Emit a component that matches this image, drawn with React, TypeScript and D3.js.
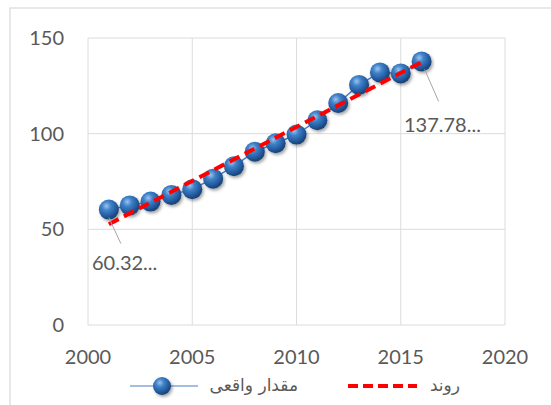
import React, { useEffect, useRef } from "react";
import * as d3 from "d3";

const years = [2001, 2002, 2003, 2004, 2005, 2006, 2007, 2008, 2009, 2010, 2011, 2012, 2013, 2014, 2015, 2016];
const values = [60.32, 62.5, 64.5, 68, 71, 76.5, 83, 90.6, 95, 99.5, 107, 116, 125.5, 132, 131.5, 137.78];
const xTicks = [2000, 2005, 2010, 2015, 2020];
const yTicks = [0, 50, 100, 150];
const seriesName = "مقدار واقعی";
const trendName = "روند";
const firstLabel = "60.32...";
const lastLabel = "137.78...";

export default function App() {
  const svgRef = useRef<SVGSVGElement>(null);

  useEffect(() => {
    if (!svgRef.current) return;
    const svg = d3.select(svgRef.current);
    svg.selectAll("*").remove();

    const W = 551, H = 405;
    const font = "Lato, 'Open Sans', sans-serif";
    const textColor = "#595959";

    const x = d3.scaleLinear().domain([2000, 2020]).range([88, 505]);
    const y = d3.scaleLinear().domain([0, 150]).range([325, 38]);

    svg.append("rect").attr("width", W).attr("height", H).attr("fill", "#fff");
    // chart frame
    svg.append("rect").attr("x", 10).attr("y", 8).attr("width", W + 20).attr("height", H + 20)
      .attr("fill", "none").attr("stroke", "#d9d9d9").attr("stroke-width", 1.2);

    const defs = svg.append("defs");
    const grad = defs.append("radialGradient").attr("id", "ball").attr("cx", "38%").attr("cy", "32%").attr("r", "65%");
    grad.append("stop").attr("offset", "0%").attr("stop-color", "#9cc3ec");
    grad.append("stop").attr("offset", "35%").attr("stop-color", "#3f82c9");
    grad.append("stop").attr("offset", "80%").attr("stop-color", "#22589c");
    grad.append("stop").attr("offset", "100%").attr("stop-color", "#1a4478");
    const shadow = defs.append("filter").attr("id", "shadow").attr("x", "-50%").attr("y", "-50%").attr("width", "200%").attr("height", "200%");
    shadow.append("feDropShadow").attr("dx", 1.5).attr("dy", 2).attr("stdDeviation", 1.5).attr("flood-color", "#000").attr("flood-opacity", 0.35);

    // grid
    svg.append("g").selectAll("line").data(xTicks).join("line")
      .attr("x1", d => x(d)).attr("x2", d => x(d)).attr("y1", y(150)).attr("y2", y(0))
      .attr("stroke", "#dcdcdc").attr("stroke-width", 1);
    svg.append("g").selectAll("line").data(yTicks).join("line")
      .attr("x1", x(2000)).attr("x2", x(2020)).attr("y1", d => y(d)).attr("y2", d => y(d))
      .attr("stroke", "#dcdcdc").attr("stroke-width", 1);

    // tick labels
    svg.append("g").selectAll("text").data(yTicks).join("text")
      .attr("x", 64).attr("y", d => y(d)).attr("dy", "0.35em").attr("text-anchor", "end")
      .attr("font-family", font).attr("font-size", 20).attr("fill", textColor).text(d => d);
    svg.append("g").selectAll("text").data(xTicks).join("text")
      .attr("x", d => x(d)).attr("y", 364).attr("text-anchor", "middle")
      .attr("font-family", font).attr("font-size", 20).attr("fill", textColor).text(d => d);

    const pts = years.map((yr, i) => ({ yr, v: values[i] }));

    // series line
    const line = d3.line<{ yr: number; v: number }>().x(d => x(d.yr)).y(d => y(d.v));
    svg.append("path").datum(pts).attr("fill", "none").attr("stroke", "#4a7cc4").attr("stroke-width", 1.5).attr("d", line);

    // markers
    svg.append("g").selectAll("circle").data(pts).join("circle")
      .attr("cx", d => x(d.yr)).attr("cy", d => y(d.v)).attr("r", 10)
      .attr("fill", "url(#ball)").attr("filter", "url(#shadow)");

    // linear trend
    const mx = d3.mean(years)!;
    const my = d3.mean(values)!;
    const slope = d3.sum(pts, d => (d.yr - mx) * (d.v - my)) / d3.sum(pts, d => (d.yr - mx) ** 2);
    const trend = (t: number) => my + slope * (t - mx);
    const x0 = years[0], x1 = years[years.length - 1];
    svg.append("line").attr("x1", x(x0)).attr("y1", y(trend(x0))).attr("x2", x(x1)).attr("y2", y(trend(x1)))
      .attr("stroke", "#ff0000").attr("stroke-width", 4).attr("stroke-dasharray", "11,6");

    // data labels with leader lines
    const first = pts[0], last = pts[pts.length - 1];
    svg.append("line").attr("x1", x(first.yr)).attr("y1", y(first.v) + 8).attr("x2", x(first.yr) + 12).attr("y2", y(first.v) + 34)
      .attr("stroke", "#a6a6a6").attr("stroke-width", 1);
    svg.append("text").attr("x", 92).attr("y", 270).attr("font-family", font).attr("font-size", 20).attr("fill", textColor).text(firstLabel);
    svg.append("line").attr("x1", x(last.yr) + 3).attr("y1", y(last.v) + 8).attr("x2", x(last.yr) + 17).attr("y2", y(last.v) + 40)
      .attr("stroke", "#a6a6a6").attr("stroke-width", 1);
    svg.append("text").attr("x", 404).attr("y", 132).attr("font-family", font).attr("font-size", 20).attr("fill", textColor).text(lastLabel);

    // legend
    const ly = 386;
    svg.append("line").attr("x1", 130).attr("x2", 198).attr("y1", ly).attr("y2", ly).attr("stroke", "#4a7cc4").attr("stroke-width", 1.2);
    svg.append("circle").attr("cx", 162).attr("cy", ly).attr("r", 9).attr("fill", "url(#ball)").attr("filter", "url(#shadow)");
    svg.append("text").attr("x", 298).attr("y", ly + 5).attr("text-anchor", "end")
      .attr("font-family", "'DejaVu Sans', sans-serif").attr("font-size", 17).attr("fill", textColor).text(seriesName);
    svg.append("line").attr("x1", 348).attr("x2", 417).attr("y1", ly).attr("y2", ly)
      .attr("stroke", "#ff0000").attr("stroke-width", 4).attr("stroke-dasharray", "10,5");
    svg.append("text").attr("x", 460).attr("y", ly + 5).attr("text-anchor", "end")
      .attr("font-family", "'DejaVu Sans', sans-serif").attr("font-size", 17).attr("fill", textColor).text(trendName);
  }, []);

  return (
    <div style={{ position: "absolute", left: 0, top: 0, width: 551, height: 405 }}>
      <svg ref={svgRef} width={551} height={405} style={{ display: "block" }}></svg>
    </div>
  );
}
